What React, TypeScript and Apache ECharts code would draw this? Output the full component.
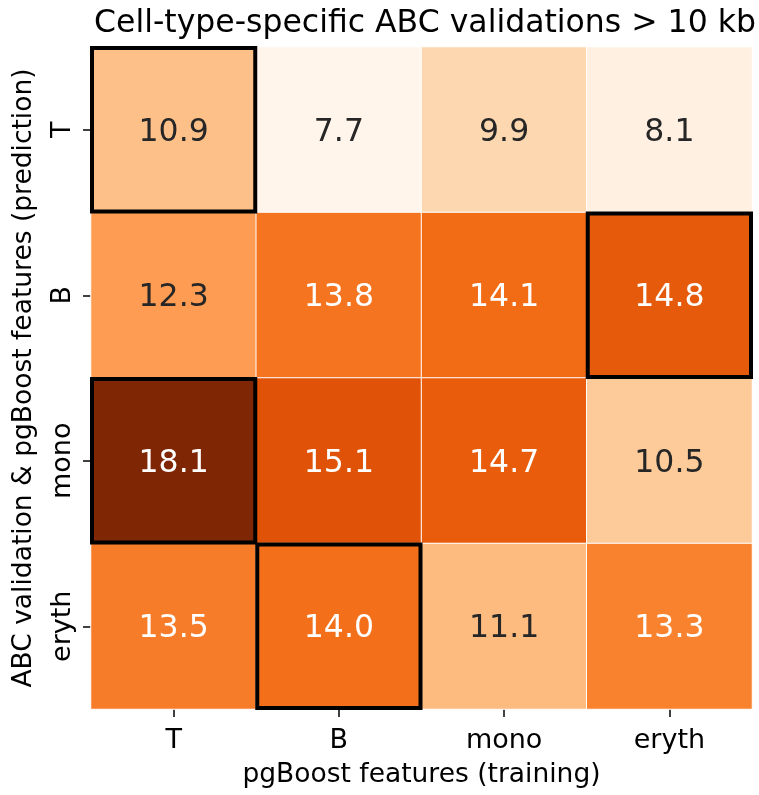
import React, { useEffect, useRef } from "react";
import * as echarts from "echarts";

const xCategories = ["T", "B", "mono", "eryth"];
const yCategories = ["T", "B", "mono", "eryth"];
const rowT = [10.9, 7.7, 9.9, 8.1];
const rowB = [12.3, 13.8, 14.1, 14.8];
const rowMono = [18.1, 15.1, 14.7, 10.5];
const rowEryth = [13.5, 14.0, 11.1, 13.3];
const matrix = [rowT, rowB, rowMono, rowEryth];
const titleText = "Cell-type-specific ABC validations > 10 kb";
const xName = "pgBoost features (training)";
const yName = "ABC validation & pgBoost features (prediction)";

const oranges = [
  "#fff5eb",
  "#fee6ce",
  "#fdd0a2",
  "#fdae6b",
  "#fd8d3c",
  "#f16913",
  "#d94801",
  "#a63603",
  "#7f2704",
];

const FONT = "DejaVu Sans";

export default function App() {
  const ref = useRef<HTMLDivElement>(null);
  useEffect(() => {
    if (!ref.current) return;
    const chart = echarts.init(ref.current, undefined, { renderer: "svg" });
    const all = matrix.flat();
    const vmin = Math.min(...all);
    const vmax = Math.max(...all);
    const heatData: any[] = [];
    matrix.forEach((row, yi) => {
      row.forEach((v, xi) => {
        heatData.push({
          value: [xi, yi, v],
          label: { color: v >= 13 ? "#ffffff" : "#262626" },
        });
      });
    });
    const highlight: any[] = matrix.map((row, yi) => {
      const m = Math.max(...row);
      return [row.indexOf(m), yi, m];
    });
    chart.setOption({
      animation: false,
      title: {
        text: titleText,
        left: 420,
        textAlign: "center",
        top: 0,
        textStyle: { fontFamily: FONT, fontSize: 31.5, fontWeight: "normal", color: "#000" },
      },
      grid: { left: 91, right: 7, top: 47, bottom: 86 },
      xAxis: {
        type: "category",
        data: xCategories,
        name: xName,
        nameLocation: "middle",
        nameGap: 50,
        nameTextStyle: { fontFamily: FONT, fontSize: 26.5, color: "#000" },
        axisLine: { show: false },
        axisTick: { show: true, alignWithLabel: true, length: 8, lineStyle: { color: "#000", width: 1.5 } },
        axisLabel: { fontFamily: FONT, fontSize: 27, color: "#000", margin: 16 },
        splitLine: { show: false },
      },
      yAxis: {
        type: "category",
        data: yCategories,
        inverse: true,
        name: yName,
        nameLocation: "middle",
        nameGap: 56,
        nameRotate: 90,
        nameTextStyle: { fontFamily: FONT, fontSize: 26.5, color: "#000" },
        axisLine: { show: false },
        axisTick: { show: true, alignWithLabel: true, length: 8, lineStyle: { color: "#000", width: 1.5 } },
        axisLabel: { fontFamily: FONT, fontSize: 27, color: "#000", margin: 17, rotate: 90 },
        splitLine: { show: false },
      },
      visualMap: {
        show: false,
        type: "continuous",
        min: vmin,
        max: vmax,
        seriesIndex: 0,
        dimension: 2,
        inRange: { color: oranges },
      },
      series: [
        {
          type: "heatmap",
          data: heatData,
          itemStyle: { borderColor: "#ffffff", borderWidth: 1 },
          label: {
            show: true,
            fontFamily: FONT,
            fontSize: 31.5,
            formatter: (p: any) => Number(p.value[2]).toFixed(1),
          },
          emphasis: { disabled: true },
        },
        {
          type: "custom",
          data: highlight,
          silent: true,
          z: 10,
          renderItem: (params: any, api: any) => {
            const c = api.coord([api.value(0), api.value(1)]);
            const s = api.size([1, 1]);
            return {
              type: "rect",
              shape: { x: c[0] - s[0] / 2 + 1, y: c[1] - s[1] / 2 + 1, width: s[0] - 2, height: s[1] - 2 },
              style: { fill: "none", stroke: "#000", lineWidth: 4 },
            };
          },
        },
      ],
    });
    return () => chart.dispose();
  }, []);
  return <div ref={ref} style={{ position: "fixed", left: 0, top: 0, width: 759, height: 795 }} />;
}
